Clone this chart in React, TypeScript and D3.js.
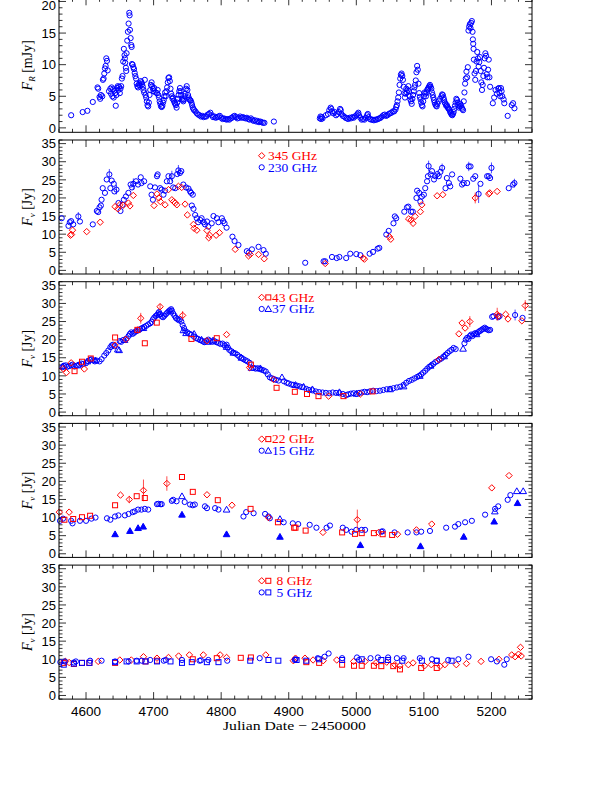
import React from "react";
import * as d3 from "d3";

type P = number[];

// ---------- axis ticks ----------
const xMajorTicks = [4600, 4700, 4800, 4900, 5000, 5100, 5200];
const fluxMajorTicks = [0, 5, 10, 15, 20, 25, 30, 35];
const rMajorTicks = [0, 5, 10, 15, 20];

// ---------- R band (mJy) ----------
const rBand: P[] = [
  [4578,2.0],[4595,2.5],[4602,2.7],[4610,4.1],[4617,6.4],[4618,6.2],[4620,4.9],[4621,4.6],[4622,5.2],[4624,5.0],
  [4625,7.6],[4626,7.8],[4627,8.6],[4628,9.4],[4629,9.8],[4630,11.0],[4631,10.6],[4632,9.1],[4634,5.8],[4636,6.2],
  [4637,5.4],[4638,6.4],[4639,5.0],[4640,6.1],[4641,4.8],[4642,5.9],[4643,5.5],[4644,3.5],[4645,5.2],[4646,6.3],
  [4647,6.6],[4648,6.0],[4649,6.5],[4650,5.5],[4651,6.2],[4652,6.6],[4653,7.8],[4654,8.2],[4655,10.5],[4656,12.5],
  [4657,11.5],[4657.5,11.0],[4658,10.3],[4659,9.5],[4659.5,9.0],[4660,11.8],[4661,13.8],[4662,15.2],[4663,16.5],[4664,18.2],
  [4664.5,17.8],[4665,15.5],[4666,14.2],[4667,13.1],[4667.5,12.8],[4668,10.1],[4669,10.0],[4670,9.6],[4671,9.3],[4672,8.7],
  [4673,8.2],[4674,7.8],[4675,7.0],[4676,6.6],[4677,6.4],[4678,6.8],[4679,7.0],[4680,6.7],[4681,7.4],[4682,7.2],
  [4683,6.9],[4684,6.5],[4685,6.0],[4686,5.6],[4687,7.6],[4688,5.2],[4689,4.8],[4690,4.2],[4691,3.6],[4692,3.4],
  [4693,4.0],[4694,5.2],[4695,6.0],[4696,6.8],[4697,7.2],[4698,6.6],[4699,6.2],[4700,5.8],[4701,6.3],[4703,5.6],
  [4705,5.5],[4706,6.0],[4707,5.2],[4708,4.8],[4709,4.2],[4710,3.8],[4711,3.4],[4712,3.3],[4713,3.5],[4714,4.0],
  [4715,4.4],[4716,5.0],[4717,5.6],[4718,5.0],[4719,5.8],[4720,6.4],[4721,7.2],[4722,7.9],[4723,8.0],[4724,7.4],
  [4725,6.2],[4726,5.4],[4727,5.0],[4728,4.6],[4729,4.8],[4730,4.3],[4731,4.0],[4732,3.8],[4733,3.6],[4734,3.2],
  [4735,4.0],[4736,4.6],[4737,5.2],[4738,5.8],[4739,6.3],[4740,5.8],[4741,5.2],[4742,4.6],[4743,4.4],[4744,4.2],
  [4745,4.5],[4746,5.0],[4747,5.4],[4748,6.2],[4749,6.6],[4750,6.0],[4751,5.2],[4752,4.8],[4753,4.5],[4754,4.4],
  [4755,4.3],[4756,4.0],[4757,3.6],[4758,3.2],[4759,3.0],[4760,2.8],[4762,2.6],[4764,2.3],[4766,2.1],[4768,2.0],
  [4770,1.8],[4772,1.9],[4774,1.7],[4776,1.8],[4778,1.8],[4780,2.1],[4782,2.2],[4784,2.4],[4786,2.0],[4788,1.7],
  [4790,1.8],[4792,1.6],[4794,1.7],[4796,1.8],[4798,1.9],[4800,1.6],[4802,1.4],[4804,1.5],[4806,1.4],[4808,1.3],
  [4810,1.4],[4812,1.3],[4814,1.5],[4816,1.6],[4818,1.8],[4820,1.9],[4822,1.7],[4824,1.5],[4826,1.6],[4828,1.8],
  [4830,1.6],[4832,1.7],[4834,1.6],[4836,1.5],[4838,1.6],[4840,1.4],[4842,1.3],[4844,1.5],[4846,1.3],[4848,1.1],
  [4850,1.2],[4852,1.0],[4854,1.1],[4856,0.9],[4858,1.0],[4860,0.9],[4862,0.8],[4864,0.8],[4878,1.0],
  [4946,1.5],[4947,1.8],[4948,1.4],[4949,1.7],[4950,1.5],[4955,2.0],[4958,2.2],[4960,2.8],[4962,3.2],[4963,3.0],
  [4964,2.6],[4966,2.3],[4968,2.5],[4970,2.0],[4972,2.2],[4974,2.5],[4976,3.0],[4977,2.8],[4978,2.2],[4980,1.9],
  [4982,1.8],[4984,1.6],[4986,1.5],[4988,1.4],[4990,1.6],[4992,1.5],[4994,1.7],[4996,1.6],[4998,1.8],[5000,2.0],
  [5002,2.2],[5003,2.4],[5004,2.0],[5006,1.6],[5008,1.3],[5010,1.4],[5012,1.3],[5014,1.6],[5016,2.0],[5017,2.2],
  [5018,1.7],[5020,1.4],[5022,1.3],[5024,1.3],[5026,1.2],[5028,1.3],[5030,1.3],[5032,1.4],[5034,1.5],[5036,1.6],
  [5038,1.8],[5040,2.0],[5042,2.1],[5044,1.9],[5046,2.0],[5048,2.2],[5050,2.3],[5052,2.4],[5054,2.6],[5056,2.6],
  [5058,2.9],[5059,3.3],[5060,3.6],[5061,4.2],[5062,4.8],[5063,5.6],[5064,6.8],[5065,7.8],[5066,8.4],[5067,8.6],
  [5068,8.2],[5069,7.6],[5070,6.5],[5071,5.5],[5072,4.8],[5073,5.4],[5074,6.2],[5075,5.6],[5076,6.0],[5077,6.6],
  [5078,5.8],[5079,5.0],[5080,4.5],[5081,4.2],[5082,3.8],[5083,4.6],[5084,5.2],[5085,5.8],[5086,6.4],[5087,6.8],
  [5088,7.5],[5089,8.8],[5090,9.8],[5091,9.2],[5092,7.0],[5093,5.5],[5094,4.9],[5095,4.5],[5096,4.0],[5097,3.6],
  [5098,3.4],[5099,4.2],[5100,5.0],[5101,5.6],[5102,5.4],[5103,5.0],[5104,5.6],[5105,6.0],[5106,6.2],[5107,6.4],
  [5108,6.6],[5109,6.8],[5110,6.5],[5111,6.2],[5112,5.6],[5113,5.2],[5114,4.8],[5115,4.4],[5116,4.0],[5117,3.7],
  [5118,3.5],[5119,3.4],[5120,3.8],[5122,4.2],[5124,4.6],[5126,5.0],[5127,5.3],[5128,5.2],[5129,4.8],[5130,4.4],
  [5131,4.0],[5132,3.8],[5133,3.5],[5134,3.6],[5135,3.3],[5136,3.1],[5137,3.0],[5138,2.8],[5139,2.5],[5140,2.3],
  [5141,2.1],[5142,2.0],[5143,2.2],[5144,2.5],[5145,3.0],[5146,3.5],[5147,4.0],[5148,4.6],[5149,4.4],[5150,4.0],
  [5151,3.6],[5152,3.2],[5153,3.4],[5154,3.8],[5155,3.5],[5156,3.2],[5157,3.0],[5158,2.8],[5159,4.2],[5160,5.6],
  [5161,7.0],[5162,7.8],[5163,8.9],[5164,8.0],[5165,9.6],[5166,15.4],[5167,16.0],[5168,16.4],[5169,15.8],[5170,16.6],
  [5171,16.9],[5172,15.2],[5172.5,14.0],[5173,13.3],[5173.5,12.5],[5174,10.8],[5175,8.6],[5176,7.6],[5177,9.0],[5178,10.5],
  [5179,12.0],[5180,11.0],[5181,9.7],[5182,10.4],[5183,11.2],[5184,9.0],[5185,7.2],[5186,6.0],[5187,6.8],[5188,8.2],
  [5189,9.5],[5190,11.0],[5191,11.8],[5192,11.4],[5193,8.5],[5194,8.0],[5195,9.2],[5196,10.8],[5197,8.0],[5198,6.5],
  [5202,3.9],[5204,4.8],[5206,6.0],[5208,5.4],[5210,6.2],[5211,6.3],[5212,5.5],[5213,5.0],[5214,6.3],[5215,5.8],
  [5216,5.0],[5218,4.5],[5219,3.9],[5224,1.9],[5230,3.6],[5232,3.9],[5234,3.1],
];

// ---------- 230 / 345 GHz (Jy) ----------
const f230: P[] = [
  [4564,14.4],[4574,12.3],[4576,13.3],[4578,13.6],[4581,12.7],[4588.6,14.9,1.2],[4591,13.5],[4610,12.7],[4616,16.4],[4618,16.1],
  [4620,17.4],[4622,17.9],[4623,19.5],[4624.7,22.7],[4628,21.4],[4630.6,25.1],[4634.5,26.5,1.5],[4636,22.7],[4638,24.8],[4641,23.9],
  [4642,21.8],[4645,22.3,1.3],[4648,18.6],[4651,16.4],[4654,18.1],[4656,19.5],[4659,20.4],[4662.7,21.4],[4666,23.7],[4668,22.9],
  [4670,23.9,1.5],[4674,24.6],[4677,23.7],[4681,25.7],[4682,24.1],[4686,24.6],[4695,23.2],[4697,20.9],[4699,19.5],[4702,22.9],
  [4705,26.0],[4706,26.5],[4709.6,22.7],[4712,22.3],[4714.6,20.9],[4717,22.0],[4719.6,24.6],[4722,26.0],[4724.5,24.6],[4727,26.0,1.5],
  [4729,22.9],[4732,22.7],[4735,26.6],[4736.7,27.6,1.5],[4739,26.9],[4741,27.4],[4744,23.7],[4748,22.9],[4751.6,22.6],[4754,21.8],
  [4755.5,21.4],[4758,20.9],[4756.6,17.9],[4759,17.0],[4761.5,15.3],[4764,14.4],[4766,13.3],[4769,13.9],[4771,14.4],[4774,13.3],
  [4776,12.7],[4779,13.5],[4781,12.1],[4786,13.0],[4788.6,15.0],[4793.6,14.4],[4796,13.3],[4801,14.4],[4803,13.6],[4805,13.0],
  [4808,11.8],[4816.7,9.3],[4819.8,8.1],[4825.6,7.0],[4838,5.3],[4841,4.9],[4845.5,5.8],[4855.3,6.5],[4862.7,5.6],[4866,4.6],
  [4924.4,2.1],[4951.6,2.5],[4954,2.5],[4964,3.7],[4971,3.4],[4975,3.7],[4985,3.4],[4991,4.6],[5000,4.5],[5006,4.2],
  [5019.7,4.6],[5024.7,5.1],[5031.6,6.0],[5034,6.2],[5044.4,9.9],[5048,10.9],[5055,13.0],[5057,14.9],[5059,14.4],[5071,16.2],
  [5075,17.4],[5077,17.6],[5081,16.2],[5083.6,16.2],[5089,20.0],[5090,22.0],[5093,21.4],[5094.8,19.0],[5097,20.4],[5100,20.9],
  [5102,22.7],[5104.7,24.6],[5106,26.0],[5107,28.8,1.5],[5110,26.5],[5112,27.4],[5115,25.1],[5117,26.0],[5120,26.6],[5122,26.0],
  [5124.5,27.2],[5127,28.3,1.2],[5132,22.7],[5134,25.5],[5137,24.1],[5139,23.2],[5141.8,26.5],[5154,25.3],[5156.5,23.7],[5159,24.1],
  [5164,24.1],[5166.4,28.7,1.3],[5169,28.7],[5173,25.3],[5176,26.0],[5181,21.1,2.5],[5183.7,23.9],[5193.6,26.0],[5196,26.0],[5198,25.5],
  [5200,28.3,1.5],[5225.6,22.7],[5232,23.7],[5234,24.1,1.2],
];
const f345: P[] = [
  [4577,9.7],[4578.5,9.9],[4580,11.1],[4601,10.7],[4621,13.3],[4643,17.6],[4647,17.0],[4650,18.1],[4655,18.0],[4662.7,18.6],
  [4665,17.8],[4670,20.7],[4700.7,17.9],[4705,21.1],[4707.6,20.0],[4710,19.0],[4717,18.1],[4722,22.3],[4727,19.5],[4729.6,19.0],
  [4732,18.6],[4734.4,18.1],[4736.7,23.2],[4741.6,22.9],[4746.6,18.3],[4750,15.3],[4759,12.7],[4760,11.6],[4764,11.1],[4779,11.0],
  [4781.6,9.0],[4783,9.7],[4792.6,9.7],[4797.5,10.4],[4820.7,5.8],[4840.5,4.0],[4843,4.4],[4855.3,4.4],[4863.7,3.2],
  [4954,1.9],[5010,3.4],[5012,3.1],[5049,9.3],[5051,8.6],[5077.5,14.2],[5081,13.9],[5084,13.0],[5087,14.9],[5094.8,16.2],
  [5097,18.1],[5119.6,20.6],[5128,20.9],[5176,20.0,1.5],[5196,21.1],[5197.5,21.4],[5208.4,21.8],
];

// ---------- 43 / 37 GHz (Jy) ----------
const f43d: P[] = [
  [4566,12.0],[4571,10.9],[4578,13.6],[4597.5,11.9],[4643,18.5],[4659,20.1],[4681,25.9,1.5],[4709.6,29.1,0.8],[4743,26.7,1.2],[4779,19.7],
  [4808,21.4],[4842,12.3],[4877.5,9.0],[4959,4.4],[5006,5.0],[5122,14.5],[5151.8,21.6],[5156.5,24.6],[5161,23.2],[5168,25.0,1.5],
  [5208.5,27.0,1.8],[5210,26.5],[5221,27.0],[5224.5,25.7],[5245,25.2],[5250,29.4,1.5],
];
const f43s: P[] = [
  [4583,11.3],[4594,13.9],[4607,14.8],[4643,20.6],[4676,22.7,1.0],[4687,19.0],[4704.7,24.7],[4756,20.2],[4793.5,20.4],[4844,13.1],
  [4882,6.7],[4909,5.6],[4927,5.0],[4944,4.4],[4981,4.4],[5024,5.7],
];
const f37c: P[] = [
  [4565,12.4],[4567,12.8],[4570,12.9],[4572,12.5],[4575,12.7],[4578,12.9],[4580,13.1],[4583,12.6],[4586,12.8],[4590,13.1],
  [4593,13.4],[4596,13.3],[4600,13.5],[4603,14.1],[4606,14.4],[4608,14.6],[4611,14.3],[4613,14.0],[4616,14.2],[4620,14.0],
  [4623,14.6],[4627,15.6],[4630,16.3],[4633,17.0],[4636,17.9],[4638,18.4],[4640,18.6],[4642,18.2],[4650,19.6],[4652,19.4],
  [4655,19.9],[4660,20.3],[4663,21.0],[4665,21.6],[4667,22.0],[4669,21.6],[4671,21.9],[4673,22.2],[4675,22.4],[4678,22.6],
  [4680,22.9],[4683,23.2],[4686,23.5],[4689,23.8],[4692,24.2],[4695,24.5],[4697,24.9],[4699,25.6],[4701,26.1],[4703,26.5],
  [4705,26.8],[4707,27.3],[4708,27.6],[4710,27.0],[4712,26.4],[4714,26.2],[4716,26.6],[4718,27.0],[4720,27.4],[4722,27.8],
  [4724,28.1],[4726,28.4],[4727,28.0],[4729,27.2],[4731,26.6],[4733,26.0],[4735,25.7],[4737,25.4],[4739,25.6],[4741,25.0],
  [4743,24.0],[4745,23.2],[4747,22.4],[4750,22.0],[4753,21.6],[4756,21.4],[4760,20.8],[4763,20.4],[4766,20.2],[4769,19.9],
  [4772,19.6],[4775,19.3],[4778,19.7],[4781,20.0],[4784,19.6],[4787,19.4],[4790,19.6],[4793,19.3],[4796,19.1],[4799,18.8],
  [4802,18.9],[4805,18.4],[4808,18.6],[4810,17.8],[4812,17.2],[4815,16.8],[4818,16.4],[4821,16.2],[4824,15.8],[4827,15.3],
  [4830,15.0],[4833,14.6],[4836,14.3],[4839,14.0],[4842,13.6],[4848,12.2],[4851,12.0],[4854,12.1],[4857,11.9],[4860,11.7],
  [4863,11.5],[4866,11.2],[4869,10.4],[4872,9.6],[4875,9.3],[4878,9.1],[4881,8.9],[4885,8.7],[4893,8.5],[4897,8.1],
  [4900,7.9],[4904,7.6],[4907,7.5],[4912,7.3],[4916,7.1],[4920,6.9],[4926,6.4],[4930,6.1],[4935,6.0],[4940,5.7],
  [4945,5.5],[4950,5.4],[4955,5.3],[4960,5.2],[4965,5.4],[4970,5.3],[4975,5.2],[4980,5.0],[4985,4.7],[4988,4.9],
  [4992,5.1],[4996,5.2],[5000,5.0],[5004,5.3],[5008,5.4],[5012,5.6],[5016,5.5],[5020,5.7],[5025,5.9],[5030,5.8],
  [5035,5.9],[5040,6.1],[5045,6.3],[5050,6.4],[5055,6.6],[5060,6.8],[5065,7.0],[5070,7.5],[5074,8.1],[5078,8.6],
  [5082,8.9],[5086,9.3],[5090,9.7],[5093,10.0],[5096,10.4],[5099,10.9],[5102,11.4],[5105,12.0],[5108,12.5],[5111,12.9],
  [5114,13.3],[5117,13.8],[5120,14.1],[5123,14.5],[5126,14.8],[5129,15.3],[5132,15.8],[5135,16.3],[5138,16.8],[5141,17.2],
  [5144,17.7],[5147,17.4],[5160,19.0],[5162,20.0],[5164,20.5],[5166,20.2],[5168,21.0],[5170,21.4],[5172,21.0],[5174,21.5],
  [5176,21.8],[5178,21.6],[5180,22.0],[5182,22.3],[5184,22.5],[5186,22.8],[5188,23.0],[5190,23.3],[5192,23.0],[5194,22.8],
  [5196,22.6],[5198,22.7],[5201,26.3],[5203,26.5],[5210,26.2],[5212,26.5],[5235,26.8,1.5],[5246,26.0],
];
const f37t: P[] = [
  [4566,12.6],[4588,12.9],[4602,14.0],[4614,14.3],[4647,17.3],[4649,17.1],[4657,19.9],[4685,23.2],[4708,27.0],[4725,27.8],
  [4744,22.6],[4748,21.8],[4760,21.6],[4771,20.0],[4780,19.4],[4788,19.8],[4808,18.0],[4818,16.4],[4830,15.0],[4845,12.2],
  [4858,12.1],[4890,9.6],[4910,7.5],[4922,7.0],[4935,6.3],[4975,5.5],[5000,5.1],[5050,6.3],[5070,7.1],[5094,10.0],
  [5110,12.8],[5130,15.4],[5158,17.5],[5178,21.5],
];

// ---------- 22 / 15 GHz (Jy) ----------
const f22d: P[] = [
  [4560.5,11.5],[4575,11.5],[4651,16.2],[4664,15.0,1.0],[4685,17.5,3.0],[4719.6,19.4,2.0],[4779,16.3],[4816,13.4],[4870,10.0],
  [4950.6,5.9],[5001.5,9.4,2.8],[5033,5.9],[5061,5.4],[5089,6.6],[5111.6,8.2],[5200.5,18.2],[5226,21.6],
];
const f22s: P[] = [
  [4568,9.4],[4581,9.6],[4594,10.1],[4606,10.5],[4643,13.4],[4675,15.9],[4687,15.4],[4742,21.2],[4758,17.1],[4795,14.8],
  [4843.5,12.4],[4884,8.7],[4910,7.2],[4908,7.2],[4925,6.4],[4979,5.9],[4998,5.5],[5008,5.7],[5026,5.7],[5039,5.4],
  [5053,5.2],
];
const f15c: P[] = [
  [4561.5,9.1],[4566,9.7],[4578,9.1],[4580,8.4],[4591,9.1],[4600,9.1],[4608,9.7],[4614,10.0],[4631,9.8],[4636,9.4],
  [4643,10.3],[4648,10.6],[4657.5,10.6],[4663,11.0],[4669,11.5],[4672,11.7],[4677,12.2],[4682,12.2],[4687,12.4],[4692,12.2],
  [4705,13.7],[4707,13.8],[4710,13.7],[4712,13.7],[4727,14.6],[4729,14.9],[4734,14.5],[4746,14.3],[4754,13.6],[4758,13.4],
  [4761,13.6],[4776,13.1],[4779,12.6],[4791,12.6],[4796,12.2],[4833,10.3],[4837,11.5],[4848,11.2],[4865,11.0],[4870,10.3],
  [4872,9.8],[4892.5,8.7],[4906,8.4],[4914,8.2],[4931,8.0],[4941,7.2],[4956,7.2],[4961,7.8],[4980,7.2],[4985,6.6],
  [4993,6.1],[5000,6.6],[5008,6.6],[5013,6.6],[5037,6.1],[5039,6.2],[5056.6,5.9],[5076,5.9],[5089,5.9],[5096,6.1],
  [5109,6.3],[5133,7.2],[5146,7.5],[5151,8.2],[5161,8.7],[5171,9.1],[5190.6,10.8],[5205.4,12.4],[5210,13.1],[5224,14.9],
  [5228,16.2],
];
const f15t: P[] = [
  [4742,15.9],[4808,12.2],[4887,9.6],[5205,11.7],[5237.5,17.3],[5247,17.3],
];
const f15f: P[] = [
  [4643,5.4],[4665,6.3],[4677,7.1],[4684.6,7.5],[4742,10.8],[4808,5.4],[4887,4.7],[5006,2.4],[5095,2.1],[5159,4.7],
  [5204,8.9],[5238.6,14.0],
];

// ---------- 8 / 5 GHz (Jy) ----------
const f8d: P[] = [
  [4569.6,9.4],[4575,9.1],[4618,9.4],[4650,9.8],[4667,9.8],[4685,10.7],[4705,10.3],[4722,10.5],[4737,10.9],[4753,11.2],
  [4773.6,11.2],[4798.5,11.2],[4808,10.5],[4866,11.2],[4910,10.3],[4906.8,9.6],[4924,10.3],[4936,9.8],[4951,9.6],[4971,9.8],
  [4996,9.4],[5013,9.4],[5029,9.0],[5045,9.2],[5057,8.5],[5064.5,8.2],[5077,8.5],[5084,9.0],[5101,8.2],[5111,8.5],
  [5124,8.1],[5131,8.5],[5148,8.5],[5163,8.8],[5184.6,9.4],[5211,10.0],[5230,11.2],[5235,10.7],[5240,11.4],[5243,13.3],
  [5244,10.9],
];
const f8s: P[] = [
  [4567,9.0],[4582,8.7],[4594,9.0],[4605,9.0],[4643,9.0],[4688,9.4],[4705,9.6],[4758,10.0],[4793.5,10.3],[4829,10.4],
  [4844,10.5],[4926,9.2],[4945,9.0],[4979,8.5],[4996.6,8.2],[5008,8.2],[5026,8.2],[5037,8.1],[5054.7,8.1],[5064.6,7.2],
  [5096,7.6],[5119,7.6],
];
const f5c: P[] = [
  [4562,9.2],[4568.6,9.4],[4582,9.1],[4585,9.4],[4606,9.6],[4623,9.6],[4643,9.4],[4663,9.4],[4675,9.6],[4682.6,9.6],
  [4695,9.8],[4715,9.6],[4718,9.8],[4742,9.8],[4768,9.6],[4770,9.7],[4781,9.8],[4809,9.6],[4857,10.3],[4910,10.0],
  [4909,9.8],[4943,10.3],[4953,10.7],[4959,11.6],[4979,10.3],[5001,10.5],[5004,9.8],[5021,10.3],[5032,10.5],[5047,10.5],
  [5060,10.3],[5070,10.3],[5094,10.3],[5112,10.0],[5119,9.6],[5136,9.8],[5151,10.0],[5166,10.7],[5199.5,10.0],[5208,9.4],
  [5219,8.5],[5222.6,10.0],
];
const f5s: P[] = [
  [4567,8.5],[4582,8.8],[4594,9.0],[4605,9.0],[4643,9.2],[4660,9.4],[4675,9.4],[4688,9.4],[4705,9.4],[4725,9.4],
  [4742,9.0],[4756.5,9.2],[4778.8,9.2],[4796,9.2],[4843,9.6],[4870,9.8],[4884.6,9.6],[4911.6,9.8],[4926,9.6],[4945,10.0],
  [4979,9.8],[5008,10.0],[5037,9.8],[5047,9.8],[5068,9.6],[5097,9.6],[5119,9.6],[5141,9.6],
];

// ---------- legends ----------
const legend2 = [
  { syms: ["diamond"], color: "red", label: "345 GHz" },
  { syms: ["circle"], color: "blue", label: "230 GHz" },
];
const legend3 = [
  { syms: ["diamond", "square"], color: "red", label: "43 GHz" },
  { syms: ["circle", "triangle"], color: "blue", label: "37 GHz" },
];
const legend4 = [
  { syms: ["diamond", "square"], color: "red", label: "22 GHz" },
  { syms: ["circle", "triangle"], color: "blue", label: "15 GHz" },
];
const legend5 = [
  { syms: ["diamond", "square"], color: "red", label: "8 GHz" },
  { syms: ["circle", "square"], color: "blue", label: "5 GHz" },
];

const RED = "#ff0000";
const BLUE = "#0000ff";

// ---------- layout ----------
const W = 591;
const H = 786;
const L = 59;
const R = 532;
const PH = 134;
const STEP = 141.7;
const TOP0 = -1.7;

const x = d3.scaleLinear().domain([4560, 5260]).range([L, R]);

function Sym({ type, cx, cy, color }: { type: string; cx: number; cy: number; color: string }) {
  const s = 3.2;
  const sw = 1;
  if (type === "circle")
    return <circle cx={cx} cy={cy} r={2.6} fill="none" stroke={color} strokeWidth={sw} />;
  if (type === "diamond")
    return (
      <path
        d={`M${cx},${cy - s}L${cx + s},${cy}L${cx},${cy + s}L${cx - s},${cy}Z`}
        fill="none"
        stroke={color}
        strokeWidth={sw}
      />
    );
  if (type === "square")
    return <rect x={cx - 2.5} y={cy - 2.5} width={5} height={5} fill="none" stroke={color} strokeWidth={sw} />;
  const t = 3.3;
  const d = `M${cx},${cy - t}L${cx + t},${cy + t * 0.75}L${cx - t},${cy + t * 0.75}Z`;
  if (type === "triangle") return <path d={d} fill="none" stroke={color} strokeWidth={sw} />;
  return <path d={d} fill={color} stroke={color} strokeWidth={sw} />;
}

type Series = { data: P[]; type: string; color: string };
type LegendEntry = { syms: string[]; color: string; label: string };

function Panel({
  index,
  yDomain,
  majors,
  series,
  legend,
  ylabel,
  showX,
  legendTextX,
}: {
  index: number;
  yDomain: [number, number];
  majors: number[];
  series: Series[];
  legend?: LegendEntry[];
  ylabel: React.ReactNode;
  showX: boolean;
  legendTextX?: number;
}) {
  const top = TOP0 + STEP * index;
  const bottom = top + PH;
  const y = d3.scaleLinear().domain(yDomain).range([bottom, top]);
  const xMinor = d3.range(4560, 5261, 20);
  const yMinor = d3.range(Math.ceil(yDomain[0]), Math.floor(yDomain[1]) + 1, 1);
  const tickCol = "#000";
  return (
    <g>
      {xMinor.map((t) => {
        const major = t % 100 === 0;
        const len = major ? 7 : 3.5;
        return (
          <g key={"xt" + t}>
            <line x1={x(t)} x2={x(t)} y1={bottom} y2={bottom - len} stroke={tickCol} strokeWidth={0.8} />
            <line x1={x(t)} x2={x(t)} y1={top} y2={top + len} stroke={tickCol} strokeWidth={0.8} />
          </g>
        );
      })}
      {yMinor.map((t) => {
        const major = majors.includes(t);
        const len = major ? 7 : 3.5;
        return (
          <g key={"yt" + t}>
            <line x1={L} x2={L + len} y1={y(t)} y2={y(t)} stroke={tickCol} strokeWidth={0.8} />
            <line x1={R} x2={R - len} y1={y(t)} y2={y(t)} stroke={tickCol} strokeWidth={0.8} />
          </g>
        );
      })}
      {majors.map((t) => (
        <text
          key={"yl" + t}
          x={L - 3}
          y={Math.max(y(t), 5)}
          dy="0.36em"
          textAnchor="end"
          fontFamily="Liberation Sans, Arial, sans-serif"
          fontSize={13}
          fill="#000"
        >
          {t}
        </text>
      ))}
      {showX &&
        xMajorTicks.map((t) => (
          <text
            key={"xl" + t}
            x={x(t)}
            y={bottom + 17}
            textAnchor="middle"
            fontFamily="Liberation Sans, Arial, sans-serif"
            fontSize={13.5}
            fill="#000"
          >
            {t}
          </text>
        ))}
      <text
        transform={`translate(32,${(top + bottom) / 2}) rotate(-90)`}
        textAnchor="middle"
        fontFamily="Liberation Serif, Times New Roman, serif"
        fontSize={14}
        fill="#000"
      >
        {ylabel}
      </text>
      {series.map((s, si) => (
        <g key={"s" + si}>
          {s.data.map((p, pi) =>
            p.length > 2 ? (
              <line
                key={"e" + pi}
                x1={x(p[0])}
                x2={x(p[0])}
                y1={y(p[1] - p[2])}
                y2={y(p[1] + p[2])}
                stroke={s.color}
                strokeWidth={0.7}
              />
            ) : null
          )}
          {s.data.map((p, pi) => (
            <Sym key={pi} type={s.type} cx={x(p[0])} cy={y(p[1])} color={s.color} />
          ))}
        </g>
      ))}
      {legend &&
        legend.map((e, li) => {
          const cy = top + 15.7 + li * 11.6;
          const col = e.color === "red" ? RED : BLUE;
          return (
            <g key={"lg" + li}>
              {e.syms.map((sym, k) => (
                <Sym key={k} type={sym} cx={261.7 + k * 6.6} cy={cy} color={col} />
              ))}
              <text
                x={legendTextX ?? 272}
                y={cy + 4.3}
                fontFamily="Liberation Serif, Times New Roman, serif"
                fontSize={13.5}
                fill={col}
              >
                {e.label}
              </text>
            </g>
          );
        })}
      <rect x={L} y={top} width={R - L} height={PH} fill="none" stroke="#000" strokeWidth={1} />
    </g>
  );
}

function FLabel({ sub, unit }: { sub: string; unit: string }) {
  return (
    <>
      <tspan fontStyle="italic">F</tspan>
      <tspan fontStyle="italic" fontSize={9} dy={3}>
        {sub}
      </tspan>
      <tspan dy={-3}>{" [" + unit + "]"}</tspan>
    </>
  );
}

export default function App() {
  return (
    <svg
      width={W}
      height={H}
      viewBox={`0 0 ${W} ${H}`}
      style={{ position: "absolute", left: 0, top: 0, background: "#fff" }}
    >
      <rect x={0} y={0} width={W} height={H} fill="#fff" />
      <Panel
        index={0}
        yDomain={[-0.7, 20.5]}
        majors={rMajorTicks}
        series={[{ data: rBand, type: "circle", color: BLUE }]}
        ylabel={<FLabel sub="R" unit="mJy" />}
        showX={false}
      />
      <Panel
        index={1}
        yDomain={[-1, 36]}
        majors={fluxMajorTicks}
        series={[
          { data: f230, type: "circle", color: BLUE },
          { data: f345, type: "diamond", color: RED },
        ]}
        legend={legend2}
        legendTextX={268}
        ylabel={<FLabel sub="ν" unit="Jy" />}
        showX={false}
      />
      <Panel
        index={2}
        yDomain={[-1, 36]}
        majors={fluxMajorTicks}
        series={[
          { data: f37c, type: "circle", color: BLUE },
          { data: f37t, type: "triangle", color: BLUE },
          { data: f43d, type: "diamond", color: RED },
          { data: f43s, type: "square", color: RED },
        ]}
        legend={legend3}
        ylabel={<FLabel sub="ν" unit="Jy" />}
        showX={false}
      />
      <Panel
        index={3}
        yDomain={[-1, 36]}
        majors={fluxMajorTicks}
        series={[
          { data: f15c, type: "circle", color: BLUE },
          { data: f15t, type: "triangle", color: BLUE },
          { data: f15f, type: "ftriangle", color: BLUE },
          { data: f22d, type: "diamond", color: RED },
          { data: f22s, type: "square", color: RED },
        ]}
        legend={legend4}
        ylabel={<FLabel sub="ν" unit="Jy" />}
        showX={false}
      />
      <Panel
        index={4}
        yDomain={[-1, 36]}
        majors={fluxMajorTicks}
        series={[
          { data: f8d, type: "diamond", color: RED },
          { data: f8s, type: "square", color: RED },
          { data: f5c, type: "circle", color: BLUE },
          { data: f5s, type: "square", color: BLUE },
        ]}
        legend={legend5}
        legendTextX={276.5}
        ylabel={<FLabel sub="ν" unit="Jy" />}
        showX={true}
      />
      <text
        x={294.5}
        y={730}
        textAnchor="middle"
        fontFamily="Liberation Serif, Times New Roman, serif"
        fontSize={13.5}
        textLength={143}
        lengthAdjust="spacingAndGlyphs"
        fill="#000"
      >
        Julian Date − 2450000
      </text>
    </svg>
  );
}
